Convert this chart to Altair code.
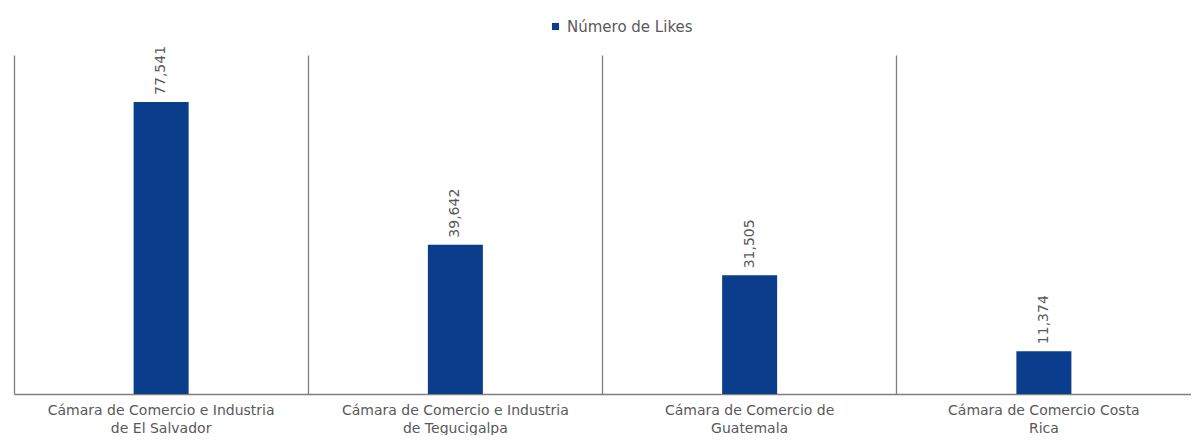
import altair as alt
import pandas as pd

categories = [
    "Cámara de Comercio e Industria\nde El Salvador",
    "Cámara de Comercio e Industria\nde Tegucigalpa",
    "Cámara de Comercio de\nGuatemala",
    "Cámara de Comercio Costa\nRica",
]
likes = [77541, 39642, 31505, 11374]
series_name = "Número de Likes"

df = pd.DataFrame({"cat": categories, "likes": likes, "series": [series_name] * 4})

FONT = "DejaVu Sans"
NAVY = "#0a3d8c"
GRAY = "#595959"

x = alt.X(
    "cat:N",
    sort=categories,
    scale=alt.Scale(paddingInner=0, paddingOuter=0),
    axis=alt.Axis(
        title=None,
        labelAngle=0,
        labelExpr="split(datum.label, '\\n')",
        labelFontSize=14,
        labelColor=GRAY,
        labelFont=FONT,
        labelPadding=9,
        labelLimit=0,
        ticks=False,
        grid=True,
        bandPosition=0,
        gridColor="#7f7f7f",
        gridWidth=1.3,
        domainColor="#7f7f7f",
        domainWidth=1.3,
        labelLineHeight=18,
    ),
)
y = alt.Y("likes:Q", scale=alt.Scale(domain=[0, 90000]), axis=None)

bars = alt.Chart(df).mark_bar(size=55).encode(
    x=x,
    y=y,
    color=alt.Color(
        "series:N",
        scale=alt.Scale(range=[NAVY]),
        legend=alt.Legend(
            title=None,
            orient="none",
            legendX=534,
            legendY=-36,
            symbolType="square",
            symbolSize=50,
            labelFontSize=15,
            labelColor=GRAY,
            labelFont=FONT,
        ),
    ),
)

labels = alt.Chart(df).mark_text(
    angle=270, align="left", baseline="middle", dx=7, fontSize=14, color=GRAY, font=FONT
).encode(x=alt.X("cat:N", sort=categories), y=y, text=alt.Text("likes:Q", format=","))

chart = (
    alt.layer(bars, labels)
    .properties(width=1177, height=339, padding={"left": 6, "top": 11, "right": 0, "bottom": 0})
    .configure_view(stroke=None)
)

chart.save("out.html", embed_options={"renderer": "svg", "actions": False})
